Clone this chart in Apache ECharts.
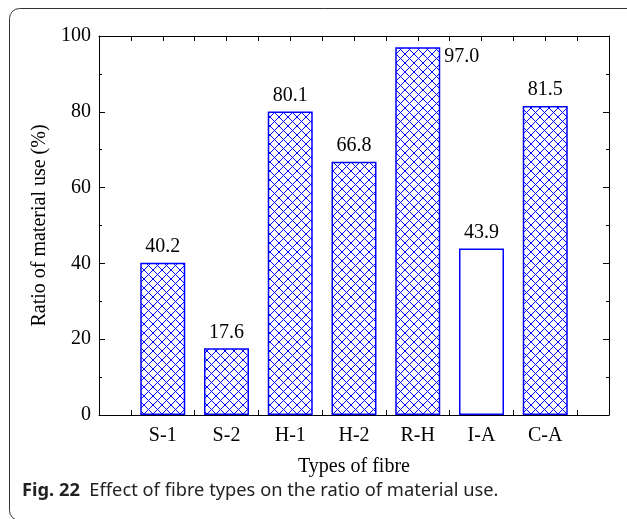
<!DOCTYPE html>
<html><head><meta charset="utf-8">
<script src="https://cdn.jsdelivr.net/npm/echarts@6/dist/echarts.min.js"></script>
<style>html,body{margin:0;padding:0;background:#fff}#c{width:627px;height:519px}</style>
</head><body><div id="c"></div>
<script>
var categories = ['S-1','S-2','H-1','H-2','R-H','I-A','C-A'];
var values = [40.2, 17.6, 80.1, 66.8, 97.0, 43.9, 81.5];
var hatched = [true, true, true, true, true, false, true];
var yTicks = [0, 20, 40, 60, 80, 100];

function makePattern(){
  var c = document.createElement('canvas');
  c.width = 9; c.height = 9;
  var g = c.getContext('2d');
  g.fillStyle = '#ffffff'; g.fillRect(0,0,9,9);
  g.strokeStyle = '#0000ff'; g.lineWidth = 1;
  g.beginPath();
  g.moveTo(0,0); g.lineTo(9,9);
  g.moveTo(9,0); g.lineTo(0,9);
  g.stroke();
  return c;
}
var pat = makePattern();

var data = categories.map(function(c,i){
  var item = {value:[i+1, values[i]], itemStyle:{color: hatched[i] ? {image: pat, repeat:'repeat'} : '#ffffff'}};
  if (values[i] > 90) {
    item.label = {position:['100%',0], align:'left', verticalAlign:'top', offset:[4,-1]};
  }
  return item;
});

var chart = echarts.init(document.getElementById('c'), null, {renderer:'canvas'});
var serif = 'Liberation Serif, Times New Roman, serif';
function tickCfg(len){ return {show:true, inside:true, length:len, lineStyle:{color:'#000', width:1}}; }
chart.setOption({
  animation:false,
  grid:{left:99, right:18, top:36, bottom:104, show:false},
  graphic:[
    {type:'rect', shape:{x:9.5, y:8.5, width:700, height:512, r:10}, style:{fill:'none', stroke:'#333', lineWidth:1}, z:-1},
    {type:'text', left:22, top:482, style:{
      text:'{b|Fig. 22}  Effect of fibre types on the ratio of material use.',
      rich:{b:{fontWeight:'bold', fontSize:18.3, fontFamily:'Noto Sans', fill:'#222'}},
      fontSize:18.3, fontFamily:'Noto Sans', fill:'#222'}}
  ],
  xAxis:[{
    type:'value', min:0, max:8, interval:1, position:'bottom',
    axisLine:{show:true, onZero:false, lineStyle:{color:'#000', width:1}},
    axisTick:tickCfg(5),
    minorTick:{show:true, splitNumber:2, length:5, lineStyle:{color:'#000'}},
    splitLine:{show:false},
    axisLabel:{fontFamily:serif, fontSize:20, color:'#000', margin:11,
      formatter:function(v){ return (v>=1 && v<=7) ? categories[v-1] : ''; }},
    name:'Types of fibre', nameLocation:'middle', nameGap:42,
    nameTextStyle:{fontFamily:serif, fontSize:20, color:'#000'}
  },{
    type:'value', min:0, max:8, interval:1, position:'top',
    axisLine:{show:true, onZero:false, lineStyle:{color:'#000'}},
    axisTick:tickCfg(5),
    minorTick:{show:true, splitNumber:2, length:5, lineStyle:{color:'#000'}},
    axisLabel:{show:false}, splitLine:{show:false}
  }],
  yAxis:[{
    type:'value', min:0, max:100, interval:20, position:'left',
    axisLine:{show:true, onZero:false, lineStyle:{color:'#000'}},
    axisTick:tickCfg(6),
    minorTick:{show:true, splitNumber:2, length:3, lineStyle:{color:'#000'}},
    splitLine:{show:false},
    axisLabel:{fontFamily:serif, fontSize:20, color:'#000', margin:8,
      formatter:function(v){ return yTicks.indexOf(v)>=0 ? String(v) : ''; }},
    name:'Ratio of material use (%)', nameLocation:'middle', nameGap:40,
    nameTextStyle:{fontFamily:serif, fontSize:20, color:'#000'}
  },{
    type:'value', min:0, max:100, interval:20, position:'right',
    axisLine:{show:true, onZero:false, lineStyle:{color:'#000'}},
    axisTick:tickCfg(6),
    minorTick:{show:true, splitNumber:2, length:3, lineStyle:{color:'#000'}},
    axisLabel:{show:false}, splitLine:{show:false}
  }],
  series:[{
    type:'bar', barWidth:45, data:data, z:1,
    itemStyle:{borderColor:'#0000ff', borderWidth:1.5},
    label:{show:true, position:'top', distance:6, fontFamily:serif, fontSize:20, color:'#000',
      formatter:function(p){ return p.value[1].toFixed(1); }}
  }]
});
</script></body></html>
